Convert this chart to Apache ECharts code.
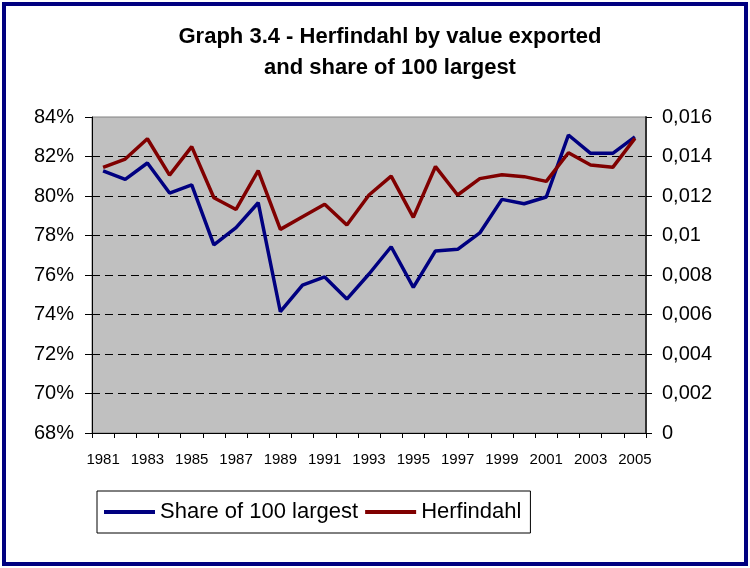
<!DOCTYPE html>
<html>
<head>
<meta charset="utf-8">
<script src="https://cdn.jsdelivr.net/npm/echarts@6/dist/echarts.min.js"></script>
<style>
  html, body { margin: 0; padding: 0; background: #fff; }
  #chart { width: 750px; height: 568px; }
</style>
</head>
<body>
<div id="chart"></div>
<script>
const years = [
  "1981", "1982", "1983", "1984", "1985", "1986", "1987", "1988", "1989",
  "1990", "1991", "1992", "1993", "1994", "1995", "1996", "1997", "1998",
  "1999", "2000", "2001", "2002", "2003", "2004", "2005"
];
// share of 100 largest exporters, in %
const share100 = [
  81.27, 80.84, 81.67, 80.15, 80.56, 77.52, 78.4, 79.66, 74.14,
  75.49, 75.9, 74.78, 76.05, 77.43, 75.37, 77.22, 77.3, 78.13,
  79.83, 79.61, 79.95, 83.09, 82.16, 82.16, 82.99
];
// Herfindahl index (right axis)
const herfindahl = [
  0.01345, 0.01387, 0.0149, 0.01306, 0.0145, 0.01191, 0.01132, 0.01328, 0.01031,
  0.01095, 0.01158, 0.01053, 0.01205, 0.01301, 0.01092, 0.01349, 0.01205, 0.01288,
  0.01308, 0.01298, 0.01274, 0.01419, 0.01357, 0.01345, 0.01492
];

const chart = echarts.init(document.getElementById("chart"));

const option = {
  backgroundColor: "#ffffff",
  animation: false,
  title: {
    text: "Graph 3.4 - Herfindahl by value exported\nand share of 100 largest",
    left: 390,
    top: 21,
    padding: 0,
    textAlign: "center",
    textStyle: {
      fontFamily: "Liberation Sans",
      fontWeight: "bold",
      fontSize: 22,
      lineHeight: 31,
      color: "#000"
    }
  },
  graphic: [
    {
      type: "rect",
      shape: { x: 4, y: 4, width: 742, height: 560 },
      style: { fill: "none", stroke: "#000080", lineWidth: 4 },
      silent: true
    }
  ],
  legend: {
    left: 97,
    top: 491,
    padding: [10, 9, 10, 7],
    itemGap: 7,
    itemWidth: 51,
    itemHeight: 4,
    icon: "rect",
    borderColor: "#000",
    borderWidth: 1,
    backgroundColor: "#fff",
    textStyle: {
      fontFamily: "Liberation Sans",
      fontSize: 22,
      color: "#000",
      padding: [0, 0, 0, 0]
    },
    data: ["Share of 100 largest", "Herfindahl"]
  },
  grid: {
    left: 92,
    right: 104,
    top: 117,
    bottom: 135,
    show: true,
    backgroundColor: "#c0c0c0",
    borderColor: "#808080",
    borderWidth: 1
  },
  xAxis: {
    type: "category",
    data: years,
    boundaryGap: true,
    axisLine: { lineStyle: { color: "#000", width: 1 } },
    axisTick: { show: true, interval: 0, length: 5, lineStyle: { color: "#000" } },
    axisLabel: {
      interval: 1,
      margin: 19,
      fontFamily: "Liberation Sans",
      fontSize: 15,
      color: "#000"
    },
    splitLine: { show: false }
  },
  yAxis: [
    {
      type: "value",
      min: 68,
      max: 84,
      interval: 2,
      position: "left",
      axisLine: { show: true, lineStyle: { color: "#000", width: 1 } },
      axisTick: { show: true, length: 7, lineStyle: { color: "#000" } },
      axisLabel: {
        margin: 18,
        fontFamily: "Liberation Sans",
        fontSize: 20,
        color: "#000",
        formatter: function (v) {
          return v + "%";
        }
      },
      splitLine: {
        show: true,
        showMinLine: false,
        showMaxLine: false,
        lineStyle: { color: "#000", width: 1, type: [8, 5] }
      }
    },
    {
      type: "value",
      min: 0,
      max: 0.016,
      interval: 0.002,
      position: "right",
      axisLine: { show: true, lineStyle: { color: "#333", width: 2 } },
      axisTick: { show: true, length: 6, lineStyle: { color: "#000" } },
      axisLabel: {
        margin: 16,
        fontFamily: "Liberation Sans",
        fontSize: 20,
        color: "#000",
        formatter: function (v) {
          return String(parseFloat(v.toFixed(4))).replace(".", ",");
        }
      },
      splitLine: { show: false }
    }
  ],
  series: [
    {
      name: "Share of 100 largest",
      type: "line",
      yAxisIndex: 0,
      data: share100,
      symbol: "none",
      color: "#000080",
      lineStyle: { color: "#000080", width: 3.5 }
    },
    {
      name: "Herfindahl",
      type: "line",
      yAxisIndex: 1,
      data: herfindahl,
      symbol: "none",
      color: "#800000",
      lineStyle: { color: "#800000", width: 3.5 }
    }
  ]
};

chart.setOption(option);
</script>
</body>
</html>
